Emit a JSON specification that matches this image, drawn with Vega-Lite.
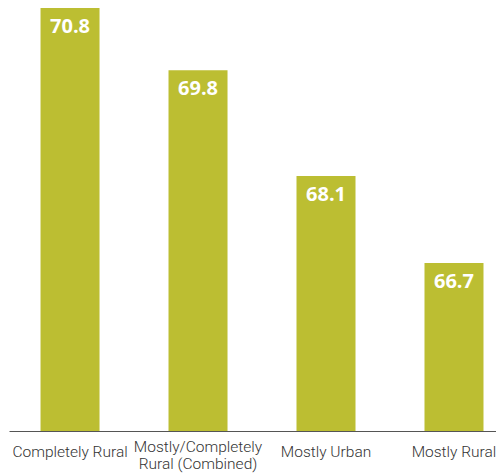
{
  "$schema": "https://vega.github.io/schema/vega-lite/v6.json",
  "autosize": {"type": "none"},
  "width": 487,
  "height": 431,
  "padding": {"left": 9, "top": 0, "right": 0, "bottom": 44},
  "background": "white",
  "config": {"view": {"stroke": null}},
  "data": {
    "values": [
      {"category": "Completely Rural", "value": 70.8},
      {"category": "Mostly/Completely|Rural (Combined)", "value": 69.8},
      {"category": "Mostly Urban", "value": 68.1},
      {"category": "Mostly Rural", "value": 66.7}
    ]
  },
  "encoding": {
    "x": {
      "field": "category",
      "type": "nominal",
      "sort": null,
      "scale": {"paddingInner": 0.539, "paddingOuter": 0.172, "align": 0.716},
      "axis": {
        "title": null,
        "labelAngle": 0,
        "ticks": false,
        "labelBaseline": "top",
        "labelPadding": {"condition": {"test": "indexof(datum.value, '|') >= 0", "value": 8}, "value": 13},
        "labelFont": "Roboto",
        "labelFontSize": 15.5,
        "labelFontWeight": 300,
        "labelColor": "#333333",
        "labelLineHeight": 17.5,
        "labelExpr": "split(datum.label, '|')",
        "domainColor": "#555555",
        "domainWidth": 1,
        "grid": false
      }
    },
    "y": {
      "field": "value",
      "type": "quantitative",
      "scale": {"domain": [64, 70.93], "zero": false, "nice": false},
      "axis": null
    }
  },
  "layer": [
    {"mark": {"type": "bar", "color": "#bcbe32", "clip": true}},
    {
      "mark": {
        "type": "text",
        "color": "white",
        "font": "Open Sans",
        "fontWeight": "bold",
        "fontSize": 20,
        "baseline": "alphabetic",
        "dy": 25
      },
      "encoding": {"text": {"field": "value", "type": "quantitative", "format": ".1f"}}
    }
  ]
}
